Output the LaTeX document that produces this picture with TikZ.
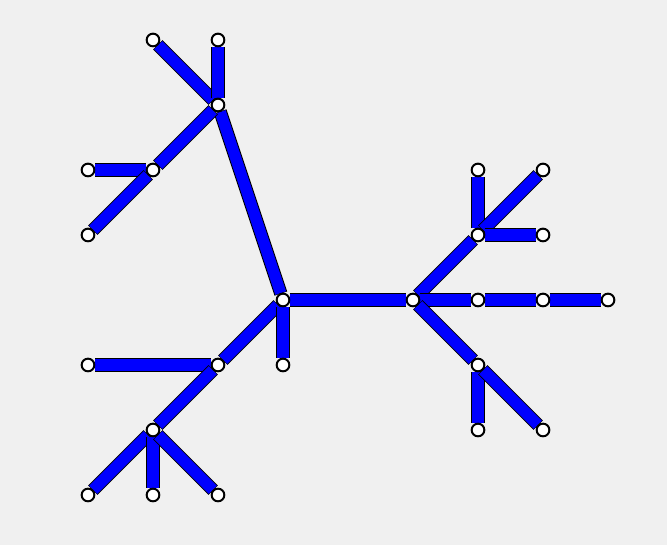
\documentclass[tikz,border=0pt]{standalone}
\usepackage{tikz}
\usetikzlibrary{backgrounds}
\definecolor{canvas}{RGB}{240,240,240}
\definecolor{barblue}{RGB}{0,0,255}
\tikzset{
  dot/.style={circle, draw=black, fill=white, line width=1.7pt, minimum size=0.38cm, inner sep=0pt},
  barout/.style={draw=black, line width=0.4cm, shorten >=-0.5pt, shorten <=-0.5pt},
  barin/.style={draw=barblue, line width=0.34cm},
}

\begin{document}
\begin{tikzpicture}[x=1.95cm, y=1.95cm]
  \useasboundingbox (-1.3538,-0.7692) rectangle (8.9077,7.6154);
  % vertices on the grid
  \foreach \x/\y in {3/3, 5/3, 2/6, 1/7, 2/7, 1/5, 0/5, 0/4, 2/2, 0/2, 1/1, 0/0, 1/0, 2/0, 3/2,
                     6/4, 6/5, 7/5, 7/4, 6/3, 7/3, 8/3, 6/2, 6/1, 7/1}
    \node[dot] (v\x\y) at (\x,\y) {};
  \begin{scope}[on background layer]
    \fill[canvas] (-1.3538,-0.7692) rectangle (8.9077,7.6154);
    % tree edges
    \foreach \a/\b in {33/53, 33/26, 26/17, 26/27, 26/15, 15/05, 15/04,
                       33/22, 22/02, 22/11, 11/00, 11/10, 11/20, 33/32,
                       53/64, 64/65, 64/75, 64/74, 53/63, 63/73, 73/83,
                       53/62, 62/61, 62/71} {
      \draw[barout] (v\a) -- (v\b);
      \draw[barin] (v\a) -- (v\b);
    }
  \end{scope}
\end{tikzpicture}
\end{document}
